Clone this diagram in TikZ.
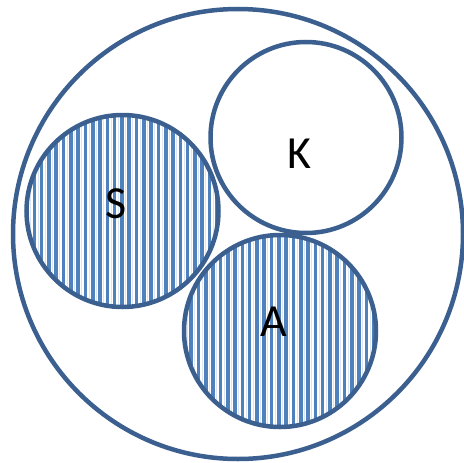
\documentclass[tikz,border=0pt]{standalone}
\usepackage{fontspec}
\setmainfont{Carlito}
\definecolor{rim}{HTML}{3B6090}
\definecolor{stripe}{HTML}{4F81BD}
\definecolor{stripelight}{HTML}{DCE6F2}
\tikzset{
  ring/.style={draw=rim, line width=4.5pt},
  lbl/.style={font=\fontsize{46}{46}\selectfont, text=black, inner sep=0pt},
}
% vertical stripes clipped to a disc: centre, radius, stripe origin
\newcommand{\stripedisc}[4]{%
  \begin{scope}
    \clip (#1,#2) circle (#3);
    \fill[white] (#1,#2) circle (#3);
    \foreach \k in {0,...,40} {
      \pgfmathsetmacro{\xs}{#4-102.2+7.3*\k}
      \fill[stripe] (\xs,#2-#3) rectangle ++(3.6,2*#3);
      \fill[stripelight] (\xs+5,#2-#3) rectangle ++(0.9,2*#3);
    }
  \end{scope}}
\begin{document}
\begin{tikzpicture}[x=1pt,y=-1pt]
  \useasboundingbox (0,0) rectangle (463,463);
  \fill[white] (0,0) rectangle (463,463);
  % outer set
  \draw[ring] (238,234) circle (225);
  % filled sets
  \stripedisc{122.5}{211}{97}{61.7}
  \stripedisc{280}{331}{97}{240.5}
  \draw[ring] (122.5,211) circle (96) node[lbl] (S) at (116,204) {S};
  \draw[ring] (280,331) circle (96) node[lbl] (A) at (274,322) {A};
  % empty set
  \draw[ring, fill=white] (306,137.5) circle (95.5);
  \node[lbl] (K) at (299,154) {K};
\end{tikzpicture}
\end{document}
